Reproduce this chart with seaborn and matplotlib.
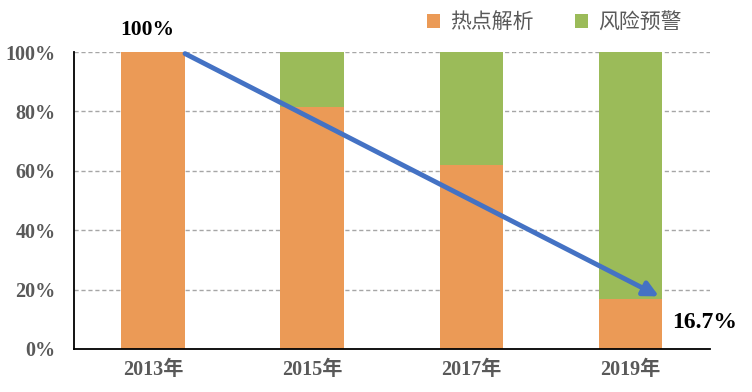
import matplotlib
matplotlib.use("Agg")
import matplotlib.pyplot as plt
import pandas as pd
import seaborn as sns

years = ["2013年", "2015年", "2017年", "2019年"]
hot_share = [100, 81.5, 62, 16.7]      # 热点解析
total_share = [100, 100, 100, 100]     # 热点解析 + 风险预警
yticks = [0, 20, 40, 60, 80, 100]

orange = "#EB9A56"
green = "#9BBB59"
blue = "#4472C4"
gray = "#595959"

sns.set_style("white")
plt.rcParams["font.family"] = ["Liberation Serif", "Noto Sans CJK SC"]

df = pd.DataFrame({"year": years, "hot": hot_share, "total": total_share})

fig = plt.figure(figsize=(7.52, 3.92), dpi=100)
ax = fig.add_axes([0.098, 0.110, 0.846, 0.757])

sns.barplot(data=df, x="year", y="total", color=green, width=0.4,
            saturation=1, ax=ax, label="风险预警", zorder=2, linewidth=0)
sns.barplot(data=df, x="year", y="hot", color=orange, width=0.4,
            saturation=1, ax=ax, label="热点解析", zorder=2, linewidth=0)

ax.set_xlim(-0.5, 3.5)
ax.set_ylim(0, 100)
ax.set_yticks(yticks)
ax.set_yticklabels([f"{v}%" for v in yticks])
ax.set_xlabel("")
ax.set_ylabel("")
for y in yticks[1:]:
    ax.axhline(y, color="#A6A6A6", lw=1, ls=(0, (3, 2)), zorder=1)

for s in ["top", "right"]:
    ax.spines[s].set_visible(False)
for s in ["left", "bottom"]:
    ax.spines[s].set_color("black")
    ax.spines[s].set_linewidth(1.3)
ax.tick_params(axis="y", length=0, pad=13)
ax.tick_params(axis="x", length=0, pad=8)
for lab in ax.get_xticklabels() + ax.get_yticklabels():
    lab.set_fontsize(14.5)
    lab.set_fontweight("bold")
    lab.set_color(gray)

# trend arrow from the first to the last 热点解析 share
ax.annotate("", xy=(3.18, hot_share[-1] + 1), xytext=(0.2, hot_share[0] - 0.5),
            arrowprops=dict(arrowstyle="-|>", color=blue, lw=3.5,
                            mutation_scale=22, shrinkA=0, shrinkB=0),
            zorder=5, annotation_clip=False)
ax.text(-0.04, 107.5, f"{hot_share[0]:g}%", ha="center", va="center",
        fontsize=15.5, fontweight="bold", color="black", clip_on=False)
ax.text(3.47, 9, f"{hot_share[-1]:g}%", ha="center", va="center",
        fontsize=17, fontweight="bold", color="black", clip_on=False)

handles, labels = ax.get_legend_handles_labels()
order = [labels.index("热点解析"), labels.index("风险预警")]
leg = ax.legend([handles[i] for i in order], [labels[i] for i in order],
                loc="lower right", bbox_to_anchor=(0.985, 1.0), ncol=2,
                frameon=False, handlelength=0.6, handleheight=0.6,
                handletextpad=0.5, columnspacing=2.0,
                prop={"family": ["Noto Sans CJK SC"], "size": 15})
for t in leg.get_texts():
    t.set_color(gray)

fig.savefig("out.png", dpi=100)
